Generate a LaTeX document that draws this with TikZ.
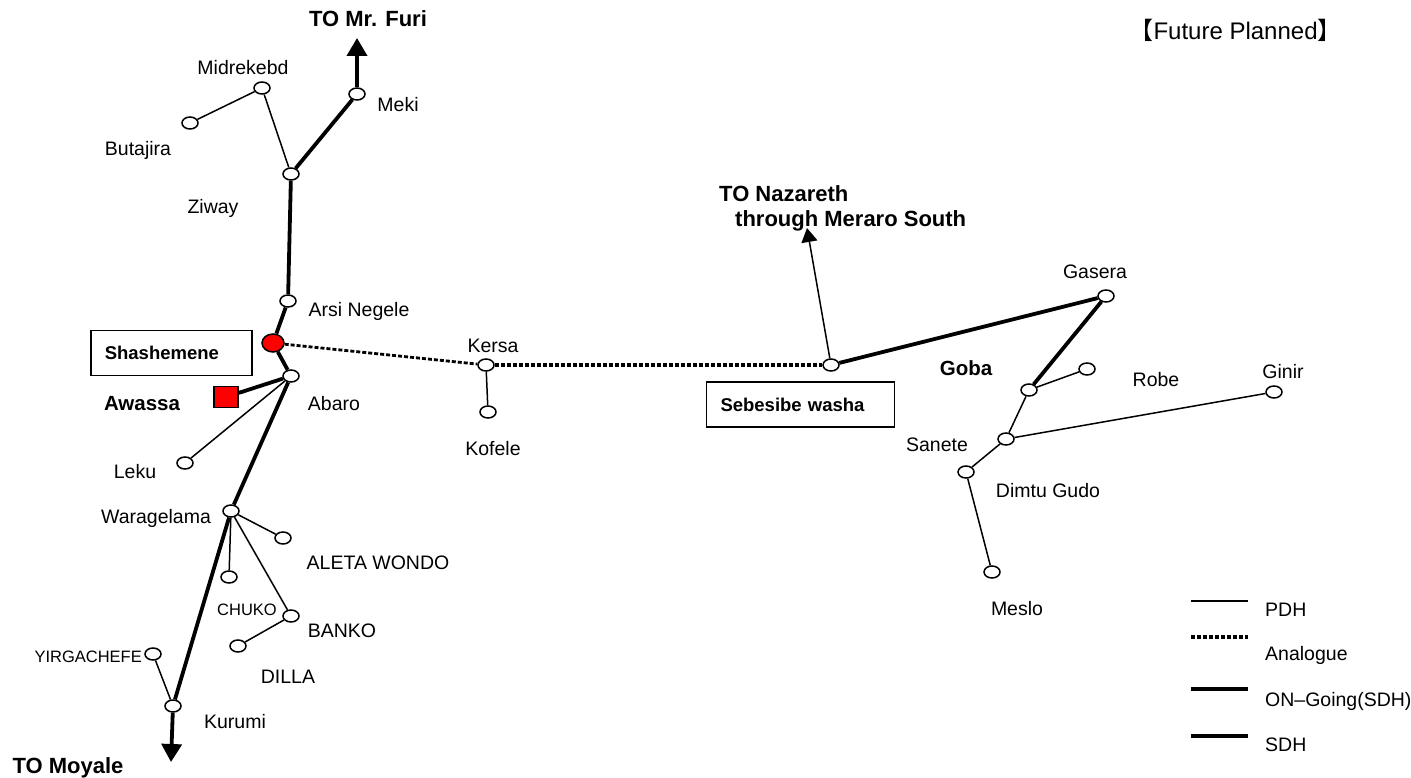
\documentclass[tikz,border=0pt]{standalone}
\usepackage{fontspec}
\setmainfont{Liberation Sans}
\newfontfamily\cjkfont{Noto Sans CJK JP}
\usetikzlibrary{arrows.meta}
\usetikzlibrary{shapes.geometric}

\begin{document}
\begin{tikzpicture}[x=1pt, y=-1pt,
  stn/.style={draw, ellipse, fill=white, line width=1.5pt, minimum width=16pt, minimum height=12pt, inner sep=0pt},
  lbl/.style={font=\fontsize{19.5}{23}\selectfont, inner sep=0pt, text height=14pt, text depth=0pt},
  bigl/.style={font=\fontsize{22}{26}\selectfont\bfseries, inner sep=0pt, text height=16pt, text depth=0pt},
  smll/.style={font=\fontsize{16.5}{20}\selectfont, inner sep=0pt, text height=12pt, text depth=0pt},
  namebox/.style={draw, line width=1.5pt, font=\fontsize{18.5}{22}\selectfont\bfseries, minimum height=45pt, inner xsep=14pt, align=left},
  pdh/.style={line width=1.5pt},
  sdh/.style={line width=3.8pt},
  ana/.style={line width=3.5pt, dash pattern=on 4pt off 2pt}]
  \useasboundingbox (0,0) rectangle (1411,778);
  % ---------------------------------------------------------------- north: Ziway, Meki
  \node[stn] (meki) at (357,94) {};
  \node[stn] (midre) at (262,88) {};
  \node[stn] (butajira) at (190,123) {};
  \node[stn] (ziway) at (291,174) {};
  \coordinate (furi) at (357,38);
  \node[bigl] (furitxt) at (368,19) {TO Mr. Furi};
  \node[lbl] (miditxt) at (243,68) {Midrekebd};
  \node[lbl] (mekitxt) at (398,105) {Meki};
  \node[lbl] (butatxt) at (138,149) {Butajira};
  \node[lbl] (ziwaytxt) at (213,207) {Ziway};
  \draw[sdh, -{Triangle[width=20pt, length=18pt]}] (meki) -- (furi);
  \draw[sdh] (ziway) -- (meki);
  \draw[pdh] (ziway) -- (midre) -- (butajira);
  % ---------------------------------------------------------------- Shashemene, Awassa
  \node[stn] (arsi) at (288,301) {};
  \node[draw, ellipse, fill=red, line width=1.5pt, minimum width=22pt, minimum height=18pt, inner sep=0pt] (shash) at (273,343) {};
  \node[stn] (abaro) at (291,376) {};
  \node[draw, fill=red, line width=1.5pt, minimum width=24pt, minimum height=21pt, inner sep=0pt] (awassa) at (226,397) {};
  \node[stn] (leku) at (185,463) {};
  \node[lbl] (arsitxt) at (359,309) {Arsi Negele};
  \node[namebox, text width=133pt] (shashbox) at (171.3,353.2) {Shashemene};
  \node[bigl, font=\fontsize{20.5}{24}\selectfont\bfseries] (awatxt) at (142,402) {Awassa};
  \node[lbl] (abarotxt) at (334,403) {Abaro};
  \node[lbl] (lekutxt) at (135,471) {Leku};
  \draw[sdh] (ziway) -- (arsi) -- (shash) -- (abaro) -- (awassa);
  \draw[pdh] (abaro) -- (leku);
  % ---------------------------------------------------------------- south: Waragelama to Moyale
  \node[stn] (wara) at (231,511) {};
  \node[stn] (aleta) at (283,538) {};
  \node[stn] (chuko) at (229,577) {};
  \node[stn] (banko) at (291,616) {};
  \node[stn] (dilla) at (238,646) {};
  \node[stn] (yirga) at (153,654) {};
  \node[stn] (kurumi) at (173,706) {};
  \coordinate (moyale) at (171,762);
  \node[lbl] (waratxt) at (156,516) {Waragelama};
  \node[lbl] (aletatxt) at (378,562) {ALETA WONDO};
  \node[smll] (chukotxt) at (247,609) {CHUKO};
  \node[lbl] (bankotxt) at (342,630) {BANKO};
  \node[lbl] (dillatxt) at (288,676) {DILLA};
  \node[smll, anchor=east] (yirgatxt) at (142,656) {YIRGACHEFE};
  \node[lbl] (kurumitxt) at (235,721) {Kurumi};
  \node[bigl] (moyaletxt) at (68,765) {TO Moyale};
  \draw[sdh] (abaro) -- (wara) -- (kurumi);
  \draw[sdh, -{Triangle[width=20pt, length=18pt]}] (kurumi) -- (moyale);
  \draw[pdh] (wara) -- (aleta);
  \draw[pdh] (wara) -- (chuko);
  \draw[pdh] (wara) -- (banko) -- (dilla);
  \draw[pdh] (yirga) -- (kurumi);
  % ---------------------------------------------------------------- east: Kersa, Sebesibe washa
  \node[stn] (kersa) at (486,365) {};
  \node[stn] (kofele) at (488,412) {};
  \node[stn] (sebesibe) at (831,365) {};
  \coordinate (nazareth) at (807,228);
  \node[lbl] (kersatxt) at (493,345) {Kersa};
  \node[lbl] (kofeletxt) at (493,448) {Kofele};
  \node[bigl, anchor=west] (naztxt) at (719,194) {TO Nazareth};
  \node[bigl, anchor=west] (meraro) at (735,218) {through Meraro South};
  \node[namebox, text width=160pt] (sebebox) at (800.5,404.5) {Sebesibe washa};
  \draw[ana, line width=2.8pt] (shash) -- (kersa);
  \draw[ana] (kersa) -- (sebesibe);
  \draw[pdh] (kersa) -- (kofele);
  \draw[pdh, -{Triangle[width=16pt, length=14pt]}] (sebesibe) -- (nazareth);
  % ---------------------------------------------------------------- Goba area
  \node[stn] (gasera) at (1106,296) {};
  \node[stn] (goba) at (1029,390) {};
  \node[stn] (robe) at (1087,369) {};
  \node[stn] (ginir) at (1274,392) {};
  \node[stn] (sanete) at (1006,439) {};
  \node[stn] (dimtu) at (966,472) {};
  \node[stn] (meslo) at (992,572) {};
  \node[lbl] (gaseratxt) at (1095,271) {Gasera};
  \node[bigl, font=\fontsize{20.5}{24}\selectfont\bfseries] (gobatxt) at (966,367) {Goba};
  \node[lbl] (robetxt) at (1156,379) {Robe};
  \node[lbl] (ginirtxt) at (1283,371) {Ginir};
  \node[lbl] (sanetetxt) at (937,444) {Sanete};
  \node[lbl] (dimtutxt) at (1048,490) {Dimtu Gudo};
  \node[lbl] (meslotxt) at (1017,608) {Meslo};
  \draw[sdh] (sebesibe) -- (gasera) -- (goba);
  \draw[pdh] (goba) -- (robe);
  \draw[pdh] (goba) -- (sanete) -- (ginir);
  \draw[pdh] (sanete) -- (dimtu) -- (meslo);
  % ---------------------------------------------------------------- title and legend
  \node[anchor=west, font=\fontsize{24}{28}\selectfont] (title) at (1126,30) {{\cjkfont 【}Future Planned{\cjkfont 】}};
  \foreach \sty/\yy/\txt/\ty [count=\i] in {pdh/601/PDH/609, ana/637/Analogue/653, sdh/689/ON--Going(SDH)/699, sdh/736/SDH/744} {
    \coordinate (key\i a) at (1191,\yy);
    \coordinate (key\i b) at (1248,\yy);
    \draw[\sty] (key\i a) -- (key\i b);
    \node[lbl, anchor=west] (key\i) at (1265,\ty) {\txt};
  }
\end{tikzpicture}
\end{document}
